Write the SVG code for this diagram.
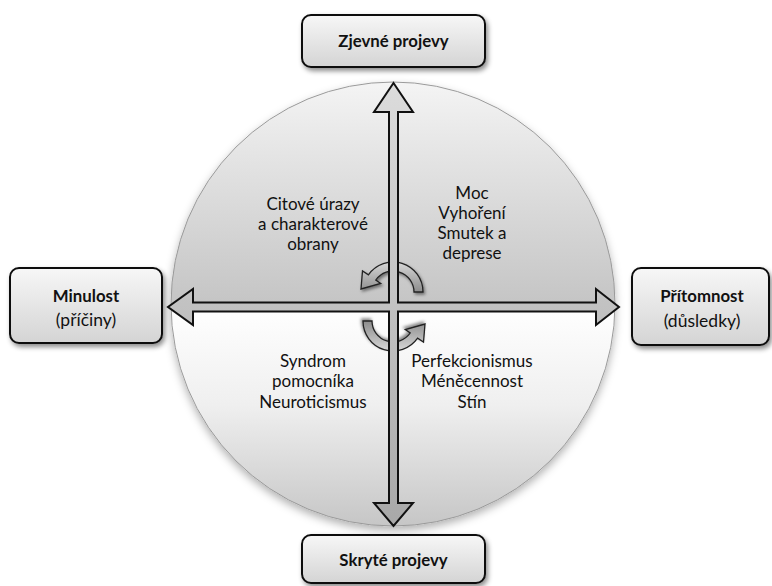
<svg xmlns="http://www.w3.org/2000/svg" width="772" height="586" viewBox="0 0 772 586">
  <defs>
    <linearGradient id="gUpper" gradientUnits="userSpaceOnUse" x1="0" y1="82" x2="0" y2="307">
      <stop offset="0" stop-color="#f4f4f4"/>
      <stop offset="1" stop-color="#c4c4c4"/>
    </linearGradient>
    <linearGradient id="gLower" gradientUnits="userSpaceOnUse" x1="0" y1="307" x2="0" y2="526">
      <stop offset="0" stop-color="#ffffff"/>
      <stop offset="0.45" stop-color="#efefef"/>
      <stop offset="1" stop-color="#c6c6c6"/>
    </linearGradient>
    <linearGradient id="gBox" x1="0" y1="0" x2="0" y2="1">
      <stop offset="0" stop-color="#f7f7f7"/>
      <stop offset="1" stop-color="#d4d4d4"/>
    </linearGradient>
    <linearGradient id="gArrow" x1="0" y1="0" x2="0" y2="1">
      <stop offset="0" stop-color="#dcdcdc"/>
      <stop offset="1" stop-color="#a8a8a8"/>
    </linearGradient>
    <linearGradient id="gTurn" x1="0" y1="0" x2="0" y2="1">
      <stop offset="0" stop-color="#d8d8d8"/>
      <stop offset="1" stop-color="#8c8c8c"/>
    </linearGradient>
    <filter id="shadow" x="-20%" y="-20%" width="140%" height="150%">
      <feDropShadow dx="2" dy="3" stdDeviation="2.5" flood-color="#000" flood-opacity="0.45"/>
    </filter>
    <filter id="softShadow" x="-10%" y="-10%" width="120%" height="125%">
      <feDropShadow dx="0" dy="4" stdDeviation="4" flood-color="#000" flood-opacity="0.3"/>
    </filter>
    <filter id="turnShadow" x="-30%" y="-30%" width="160%" height="160%">
      <feDropShadow dx="1.5" dy="2" stdDeviation="1.5" flood-color="#000" flood-opacity="0.45"/>
    </filter>
    <clipPath id="clipUpper"><rect x="160" y="70" width="470" height="237"/></clipPath>
    <clipPath id="clipLower"><rect x="160" y="307" width="470" height="230"/></clipPath>
  </defs>
  <style>
    .box { fill: url(#gBox); stroke: #111; stroke-width: 2; filter: url(#shadow); }
    .title { font-family: Lato, "Liberation Sans", sans-serif; font-weight: bold; font-size: 16.8px; fill: #111; text-anchor: middle; }
    .sub { font-family: Lato, "Liberation Sans", sans-serif; font-size: 17.5px; fill: #111; text-anchor: middle; }
    .quad { font-family: Lato, "Liberation Sans", sans-serif; font-size: 17px; fill: #111; text-anchor: middle; }
    .turn { fill: url(#gTurn); stroke: #222; stroke-width: 1.3; filter: url(#turnShadow); }
  </style>

  <!-- central disc split into an upper and a lower half -->
  <g id="disc" filter="url(#softShadow)">
    <circle cx="393" cy="304" r="222" fill="url(#gUpper)" clip-path="url(#clipUpper)"/>
    <circle cx="393" cy="304" r="222" fill="url(#gLower)" clip-path="url(#clipLower)"/>
    <circle cx="393" cy="304" r="222" fill="none" stroke="#9a9a9a" stroke-width="1"/>
  </g>

  <!-- quadrant labels -->
  <g id="q-past-visible">
    <text class="quad" x="313" y="210">Citové úrazy</text>
    <text class="quad" x="313" y="230">a charakterové</text>
    <text class="quad" x="313" y="250">obrany</text>
  </g>
  <g id="q-present-visible">
    <text class="quad" x="472" y="199">Moc</text>
    <text class="quad" x="472" y="219">Vyhoření</text>
    <text class="quad" x="472" y="239">Smutek a</text>
    <text class="quad" x="472" y="259">deprese</text>
  </g>
  <g id="q-past-hidden">
    <text class="quad" x="313" y="367">Syndrom</text>
    <text class="quad" x="313" y="387">pomocníka</text>
    <text class="quad" x="313" y="408">Neuroticismus</text>
  </g>
  <g id="q-present-hidden">
    <text class="quad" x="472" y="367">Perfekcionismus</text>
    <text class="quad" x="472" y="387">Méněcennost</text>
    <text class="quad" x="472" y="408">Stín</text>
  </g>

  <g id="connectors">
    <!-- rotation arrows around the centre -->
    <path id="turn-upper" class="turn" d="M 423 292 A 30 30 0 0 0 368.4 274.8 L 362.5 271 L 361 289 L 380.7 283.4 L 375.8 280 A 21 21 0 0 1 414 292 Z"/>
    <path id="turn-lower" class="turn" transform="rotate(180 393 306.5)" d="M 423 292 A 30 30 0 0 0 368.4 274.8 L 362.5 271 L 361 289 L 380.7 283.4 L 375.8 280 A 21 21 0 0 1 414 292 Z"/>
    <!-- four-way axis arrow -->
    <path id="axes" fill="url(#gArrow)" stroke="#111" stroke-width="2" stroke-linejoin="miter"
      d="M 393.5 83 L 413 112 L 398 112 L 398 302.5 L 596 302.5 L 596 289 L 619 307 L 596 325 L 596 311.5 L 398 311.5 L 398 503 L 413 503 L 393.5 526 L 374 503 L 389 503 L 389 311.5 L 193 311.5 L 193 325 L 168 307 L 193 289 L 193 302.5 L 389 302.5 L 389 112 L 374 112 Z"/>
  </g>

  <g id="node-visible">
    <rect class="box" x="302" y="15" width="183" height="52" rx="9"/>
    <text class="title" x="393.5" y="47">Zjevné projevy</text>
  </g>
  <g id="node-past">
    <rect class="box" x="10" y="268" width="152" height="75" rx="9"/>
    <text class="title" x="86" y="302">Minulost</text>
    <text class="sub" x="86" y="326">(příčiny)</text>
  </g>
  <g id="node-present">
    <rect class="box" x="632" y="268" width="137" height="77" rx="9"/>
    <text class="title" x="702" y="302">Přítomnost</text>
    <text class="sub" x="702" y="327">(důsledky)</text>
  </g>
  <g id="node-hidden">
    <rect class="box" x="302" y="535" width="183" height="48" rx="9"/>
    <text class="title" x="393.5" y="566">Skryté projevy</text>
  </g>
</svg>
